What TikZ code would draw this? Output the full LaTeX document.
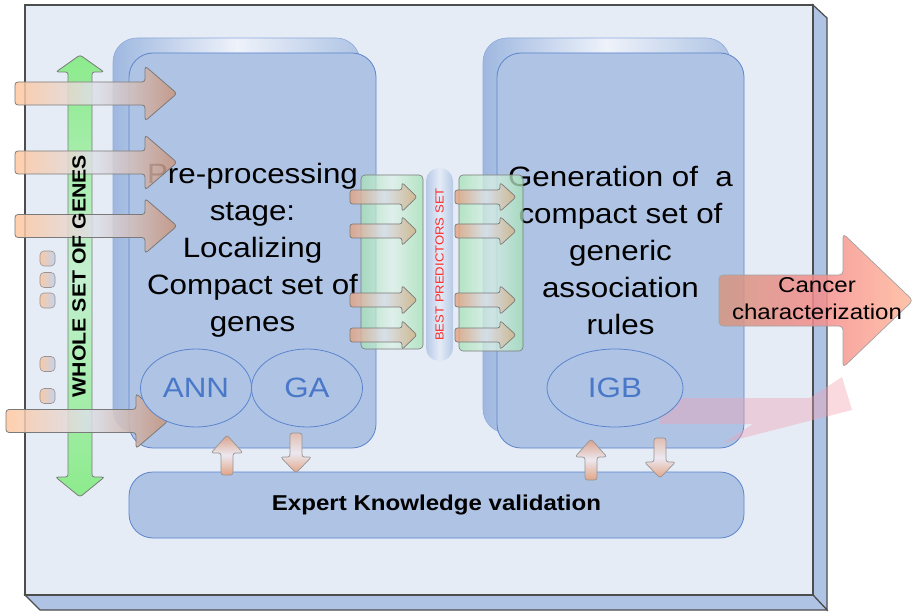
\documentclass[tikz,border=0pt]{standalone}
\usepackage{fontspec}
\setmainfont{Liberation Sans}[FakeStretch=1.12]
\usepackage{xcolor}
\usepackage{tikz}
\usetikzlibrary{shapes.geometric}
\definecolor{boxface}{HTML}{E6ECF6}
\definecolor{boxside}{HTML}{AFC4E4}
\definecolor{boxline}{HTML}{4D4D4D}
\definecolor{panelblue}{HTML}{AFC4E4}
\definecolor{panelline}{HTML}{5B84CC}
\definecolor{backblue}{HTML}{9FB8E0}
\definecolor{backhi}{HTML}{EEF2FA}
\definecolor{methodtext}{HTML}{4A78C8}
\definecolor{geneleft}{HTML}{FFC79F}
\definecolor{genemid}{HTML}{DCE0EA}
\definecolor{generight}{HTML}{C8937B}
\definecolor{arrowline}{HTML}{7A7A7A}
\definecolor{greenarrow}{HTML}{8CEB8C}
\definecolor{greenmid}{HTML}{C4EFD0}
\definecolor{gateside}{HTML}{A4E2B4}
\definecolor{gatemid}{HTML}{DDF1E8}
\definecolor{pillside}{HTML}{B8C9E6}
\definecolor{pillmid}{HTML}{E4EBF6}
\definecolor{bestred}{HTML}{FF2A2A}
\definecolor{cancerleft}{HTML}{D49680}
\definecolor{cancermid}{HTML}{F48C8C}
\definecolor{cancerright}{HTML}{FFB99C}
\definecolor{pinkband}{HTML}{F2A0B0}
\definecolor{dotleft}{HTML}{F9C9A8}
\definecolor{dotright}{HTML}{C5D3EA}
\definecolor{smallleft}{HTML}{E4A07C}
\definecolor{smallmid}{HTML}{D5DEEA}
\definecolor{smallright}{HTML}{D4AE80}
\definecolor{vhead}{HTML}{D8A088}
\definecolor{vmid}{HTML}{ECE8F0}
\definecolor{vtail}{HTML}{E2A486}
% block arrow pointing right: style, tail x, head x, tip x, y, shaft half, head half
\newcommand{\harrow}[7]{%
  \path[#1] (#2,#5-#6) -- (#3,#5-#6) -- (#3,#5-#7) -- (#4,#5)
    -- (#3,#5+#7) -- (#3,#5+#6) -- (#2,#5+#6) -- cycle;}
% block arrow along y: style, x, tail y, head y, tip y, shaft half, head half
\newcommand{\varrow}[7]{%
  \path[#1] (#2-#6,#3) -- (#2-#6,#4) -- (#2-#7,#4) -- (#2,#5)
    -- (#2+#7,#4) -- (#2+#6,#4) -- (#2+#6,#3) -- cycle;}

\begin{document}
\begin{tikzpicture}[
    x=1pt, y=-1pt,
    panel/.style={
        draw=panelline,
        fill=panelblue,
        line width=0.8pt,
        rounded corners=24pt,
        inner sep=0pt
    },
    backpanel/.style={
        draw=panelline!40!panelblue,
        line width=0.6pt,
        rounded corners=24pt,
        left color=backblue,
        right color=panelblue,
        middle color=backhi,
        minimum width=247pt,
        minimum height=395pt
    },
    method/.style={
        ellipse,
        draw=panelline,
        fill=panelblue,
        line width=0.8pt,
        text=methodtext,
        font=\fontsize{28}{28}\selectfont,
        minimum width=111pt,
        minimum height=78pt
    },
    stage/.style={
        align=center,
        font=\fontsize{28}{37}\selectfont
    },
    genearrow/.style={
        draw=arrowline,
        line width=0.8pt,
        rounded corners=3pt,
        left color=geneleft,
        right color=generight,
        middle color=genemid,
        fill opacity=0.85
    },
    smallarrow/.style={
        draw=arrowline,
        line width=0.7pt,
        rounded corners=2.5pt,
        left color=smallleft,
        right color=smallright,
        middle color=smallmid,
        fill opacity=0.8
    },
    uparrow/.style={
        draw=arrowline!80,
        line width=0.7pt,
        rounded corners=2.5pt,
        top color=vhead,
        bottom color=vtail,
        middle color=vmid
    },
    downarrow/.style={
        draw=arrowline!80,
        line width=0.7pt,
        rounded corners=2.5pt,
        top color=vhead!60!vmid,
        bottom color=vtail,
        middle color=vmid
    },
    gate/.style={
        draw=arrowline,
        line width=0.6pt,
        rounded corners=4pt,
        left color=gateside,
        right color=gateside,
        middle color=gatemid,
        fill opacity=0.75
    },
    dot/.style={
        draw=arrowline!80,
        line width=0.6pt,
        rounded corners=4pt,
        left color=dotleft,
        right color=dotright,
        minimum width=15pt,
        minimum height=15pt,
        inner sep=0pt
    }
]
    \useasboundingbox (0,0) rectangle (915,612);

    % outer box with its two visible sides
    \filldraw[fill=boxside, draw=boxline, line width=1.2pt]
        (813,5) -- (827,18) -- (827,610) -- (813,595) -- cycle;
    \filldraw[fill=boxside, draw=boxline, line width=1.2pt]
        (25,595) -- (40,610) -- (827,610) -- (813,595) -- cycle;
    \filldraw[fill=boxface, draw=boxline, line width=1.2pt]
        (25,5) rectangle (813,595);

    % the two stages
    \node[backpanel] (prepback) at (236.5,235.5) {};
    \node[backpanel] (ruleback) at (606.5,235.5) {};
    \node[panel, stage, minimum width=247pt, minimum height=395pt] (prep)
        at (252.5,250.5) {Pre-processing\\stage:\\Localizing\\Compact set of\\genes};
    \node[panel, stage, minimum width=247pt, minimum height=395pt] (rules)
        at (620.5,250.5) {Generation of~ a\\compact set of\\generic\\association\\rules};

    % faint band leaving IGB
    \fill[pinkband, fill opacity=0.4]
        (660,398) -- (810,398) -- (842,377) -- (852,410) -- (723,443)
        -- (753,424) -- (660,424) -- cycle;

    % whole set of genes
    \path[draw=arrowline, line width=0.8pt, rounded corners=2.5pt,
        top color=greenarrow, bottom color=greenarrow, middle color=greenmid]
        (68,477) -- (68,72) -- (56,72) -- (80,55) -- (104,72) -- (92,72)
        -- (92,477) -- (104.5,477) -- (80,497) -- (55.5,477) -- cycle;
    \foreach \y [count=\i] in {258.5,280,300.5,364,396}
        \node[dot] (dot\i) at (47.5,\y) {};

    \foreach \y in {93.5,162.5,226}
        \harrow{genearrow}{15}{145}{177}{\y}{11.5}{27.5};
    \harrow{genearrow}{6}{136}{168}{421}{11.5}{27.5}
    \node[rotate=90, font=\bfseries\fontsize{19}{19}\selectfont] (whole)
        at (79,276) {WHOLE SET OF GENES};

    % methods
    \node[method] (ann) at (196,388) {ANN};
    \node[method] (ga) at (307,388) {GA};
    \node[method, minimum width=136pt] (igb) at (615,388) {IGB};

    % best predictors set
    \node[gate, minimum width=62pt, minimum height=174pt] (gatein) at (392,262) {};
    \node[gate, minimum width=64pt, minimum height=176pt] (gateout) at (491,263) {};
    \node[rounded corners=13pt, left color=pillside, right color=pillside,
        middle color=pillmid, minimum width=27pt, minimum height=193pt] (best)
        at (439.5,264.5) {};
    \node[rotate=90, text=bestred, font=\fontsize{11.7}{11.7}\selectfont]
        (bestlabel) at (best.center) {BEST PREDICTORS SET};
    \foreach \y in {197,231,300,335} {
        \harrow{smallarrow}{350}{402}{417}{\y}{7}{14.5}
        \harrow{smallarrow}{455}{500}{516}{\y}{7}{14.5}
    }

    % cancer characterization
    \harrow{draw=arrowline!70, line width=0.7pt, rounded corners=4pt,
        left color=cancerleft, right color=cancerright, middle color=cancermid,
        fill opacity=0.85}{719}{843}{913}{300.5}{25.5}{67}
    \node[align=center, font=\fontsize{21.5}{27}\selectfont] (cancer)
        at (817,299) {Cancer\\characterization};

    % expert knowledge validation
    \node[panel, minimum width=615pt, minimum height=66pt,
        font=\bfseries\fontsize{21.5}{21.5}\selectfont] (expert)
        at (436.5,505) {Expert Knowledge validation};
    \varrow{uparrow}{227}{475}{453}{435}{6}{16}
    \varrow{downarrow}{296}{433}{457}{473}{6}{15.5}
    \varrow{uparrow}{591}{480}{457}{439}{6}{16}
    \varrow{downarrow}{660}{438}{462}{478}{6}{15.5}
\end{tikzpicture}
\end{document}
